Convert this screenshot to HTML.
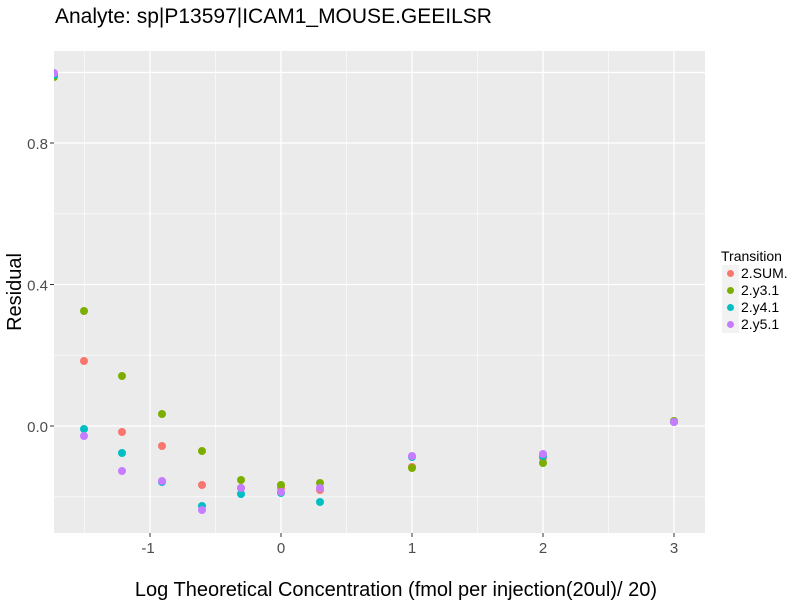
<!DOCTYPE html>
<html><head><meta charset="utf-8"><style>body{margin:0;background:#fff}svg{display:block;font-family:"Liberation Sans",sans-serif}</style></head>
<body>
<svg width="800" height="600" xmlns="http://www.w3.org/2000/svg">
<rect width="800" height="600" fill="#fff"/>
<text x="55" y="23" font-size="21" fill="#000">Analyte: sp|P13597|ICAM1_MOUSE.GEEILSR</text>
<defs><clipPath id="c"><rect x="54" y="51" width="651" height="482"/></clipPath></defs>
<rect x="54" y="51" width="651" height="482" fill="#ebebeb"/>
<g stroke="#fff" stroke-width="0.6">
<line x1="84.5" x2="84.5" y1="51" y2="533"/><line x1="215.5" x2="215.5" y1="51" y2="533"/><line x1="346.5" x2="346.5" y1="51" y2="533"/><line x1="477.5" x2="477.5" y1="51" y2="533"/><line x1="608.5" x2="608.5" y1="51" y2="533"/>
<line x1="54" x2="705" y1="213.8" y2="213.8"/><line x1="54" x2="705" y1="355.2" y2="355.2"/><line x1="54" x2="705" y1="496.8" y2="496.8"/>
</g>
<g stroke="#fff" stroke-width="1.3">
<line x1="150" x2="150" y1="51" y2="533"/><line x1="281" x2="281" y1="51" y2="533"/><line x1="412" x2="412" y1="51" y2="533"/><line x1="543" x2="543" y1="51" y2="533"/><line x1="674" x2="674" y1="51" y2="533"/>
<line x1="54" x2="705" y1="72.5" y2="72.5"/><line x1="54" x2="705" y1="143" y2="143"/><line x1="54" x2="705" y1="284.5" y2="284.5"/><line x1="54" x2="705" y1="426" y2="426"/>
</g>
<g clip-path="url(#c)">
<g fill="#F8766D"><circle cx="54" cy="75" r="4"/><circle cx="84" cy="361" r="4"/><circle cx="122" cy="432" r="4"/><circle cx="162" cy="446" r="4"/><circle cx="202" cy="485" r="4"/><circle cx="241" cy="488" r="4"/><circle cx="281" cy="488" r="4"/><circle cx="320" cy="490" r="4"/><circle cx="412" cy="467" r="4"/><circle cx="543" cy="458" r="4"/><circle cx="674" cy="422" r="4"/></g>
<g fill="#7CAE00"><circle cx="54" cy="77" r="4"/><circle cx="84" cy="311" r="4"/><circle cx="122" cy="376" r="4"/><circle cx="162" cy="414" r="4"/><circle cx="202" cy="451" r="4"/><circle cx="241" cy="480" r="4"/><circle cx="281" cy="485" r="4"/><circle cx="320" cy="483" r="4"/><circle cx="412" cy="468" r="4"/><circle cx="543" cy="463" r="4"/><circle cx="674" cy="421" r="4"/></g>
<g fill="#00BFC4"><circle cx="54" cy="75" r="4"/><circle cx="84" cy="429" r="4"/><circle cx="122" cy="453" r="4"/><circle cx="162" cy="482" r="4"/><circle cx="202" cy="506" r="4"/><circle cx="241" cy="494" r="4"/><circle cx="281" cy="493" r="4"/><circle cx="320" cy="502" r="4"/><circle cx="412" cy="457" r="4"/><circle cx="543" cy="456" r="4"/><circle cx="674" cy="422" r="4"/></g>
<g fill="#C77CFF"><circle cx="54" cy="73" r="4"/><circle cx="84" cy="436" r="4"/><circle cx="122" cy="471" r="4"/><circle cx="162" cy="481" r="4"/><circle cx="202" cy="510" r="4"/><circle cx="241" cy="488" r="4"/><circle cx="281" cy="492" r="4"/><circle cx="320" cy="488" r="4"/><circle cx="412" cy="456" r="4"/><circle cx="543" cy="454" r="4"/><circle cx="674" cy="422" r="4"/></g>
</g>
<g stroke="#333" stroke-width="1"><line x1="50" x2="54" y1="143" y2="143"/><line x1="50" x2="54" y1="284.5" y2="284.5"/><line x1="50" x2="54" y1="426" y2="426"/>
<line x1="150" x2="150" y1="533" y2="537"/><line x1="281" x2="281" y1="533" y2="537"/><line x1="412" x2="412" y1="533" y2="537"/><line x1="543" x2="543" y1="533" y2="537"/><line x1="674" x2="674" y1="533" y2="537"/></g>
<g font-size="15" fill="#4d4d4d" text-anchor="end"><text x="48" y="149">0.8</text><text x="48" y="290.5">0.4</text><text x="48" y="432">0.0</text></g>
<g font-size="15" fill="#4d4d4d" text-anchor="middle"><text x="148" y="553">-1</text><text x="281" y="553">0</text><text x="412" y="553">1</text><text x="543" y="553">2</text><text x="674" y="553">3</text></g>
<text x="396" y="596" font-size="20" text-anchor="middle" fill="#000">Log Theoretical Concentration (fmol per injection(20ul)/ 20)</text>
<text transform="translate(21,292) rotate(-90)" font-size="20" text-anchor="middle" fill="#000">Residual</text>
<text x="721" y="261" font-size="14" fill="#000">Transition</text>
<g fill="#f2f2f2"><rect x="722" y="265" width="17" height="17"/><rect x="722" y="282" width="17" height="17"/><rect x="722" y="299" width="17" height="17"/><rect x="722" y="316" width="17" height="17"/></g>
<circle cx="730.5" cy="273.5" r="3.5" fill="#F8766D"/><circle cx="730.5" cy="290.5" r="3.5" fill="#7CAE00"/><circle cx="730.5" cy="307.5" r="3.5" fill="#00BFC4"/><circle cx="730.5" cy="324.5" r="3.5" fill="#C77CFF"/>
<g font-size="14" fill="#000"><text x="741" y="278">2.SUM.</text><text x="741" y="295">2.y3.1</text><text x="741" y="312">2.y4.1</text><text x="741" y="329">2.y5.1</text></g>
</svg>
</body></html>
